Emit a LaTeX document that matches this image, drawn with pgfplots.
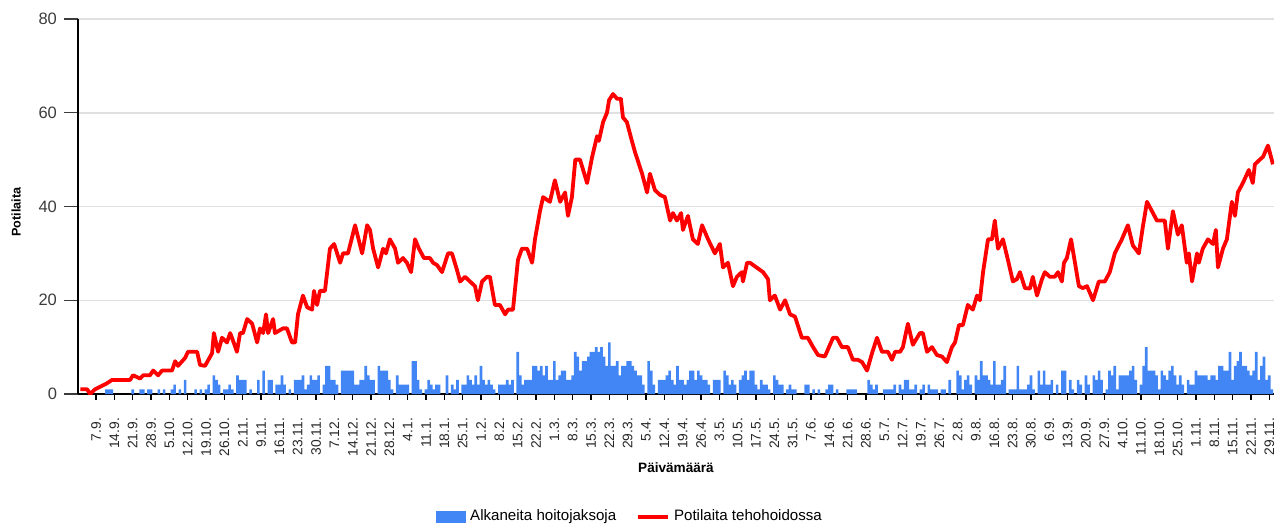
\documentclass[border=0pt]{standalone}
\usepackage{fontspec}
\setmainfont{Liberation Sans}
\usepackage{pgfplots}
\pgfplotsset{compat=1.18}
\definecolor{barblue}{RGB}{66,133,244}
\definecolor{gridgray}{RGB}{224,224,224}
\definecolor{tickgray}{RGB}{60,60,60}
\begin{document}
\begin{tikzpicture}
\begin{axis}[
  scale only axis, width=598pt, height=187.5pt,
  at={(0pt,0pt)}, anchor=south west,
  xmin=-0.9, xmax=455.8, ymin=0, ymax=80,
  axis lines=left, axis line style={-, line width=0.8pt, black},
  ytick={0,20,40,60,80},
  ymajorgrids, grid style={gridgray, line width=0.75pt},
  xtick={6,13,...,454},
  xticklabels={7.9.,14.9.,21.9.,28.9.,5.10.,12.10.,19.10.,26.10.,2.11.,9.11.,16.11.,23.11.,30.11.,7.12.,14.12.,21.12.,28.12.,4.1.,11.1.,18.1.,25.1.,1.2.,8.2.,15.2.,22.2.,1.3.,8.3.,15.3.,22.3.,29.3.,5.4.,12.4.,19.4.,26.4.,3.5.,10.5.,17.5.,24.5.,31.5.,7.6.,14.6.,21.6.,28.6.,5.7.,12.7.,19.7.,26.7.,2.8.,9.8.,16.8.,23.8.,30.8.,6.9.,13.9.,20.9.,27.9.,4.10.,11.10.,18.10.,25.10.,1.11.,8.11.,15.11.,22.11.,29.11.},
  tick align=outside, major tick length=7pt,
  ytick style={tickgray, line width=0.7pt},
  xtick style={black, line width=0.6pt, /pgfplots/major tick length=3pt},
  /pgf/number format/assume math mode=true,
  yticklabel style={font=\fontsize{8.25}{9}\selectfont, text=tickgray},
  xticklabel style={rotate=90, anchor=east, xshift=-1.5pt, font=\fontsize{6.9}{7}\selectfont, text=black!85},
  xlabel={Päivämäärä},
  xlabel style={font=\fontsize{6.8}{7}\selectfont\bfseries, at={(axis description cs:0.5,0)}, anchor=center, yshift=-37pt},
  ylabel={Potilaita},
  ylabel style={font=\fontsize{6.3}{7}\selectfont\bfseries, at={([xshift=-31pt]axis description cs:0,0.485)}, anchor=center},
  legend columns=2,
  legend style={at={([yshift=-61.5pt]axis description cs:0.4624,0)}, anchor=center, draw=none, fill=none,
    font=\fontsize{7.55}{8}\selectfont, /tikz/every even column/.append style={column sep=8pt}},
]
\addplot[ybar, bar width=1, fill=barblue, draw=none,
  legend image code/.code={\fill[barblue] (0pt,-3pt) rectangle (15pt,3pt);}]
table[row sep=\\]{
x y\\
10 1\\ 11 1\\ 12 1\\ 20 1\\ 23 1\\ 24 1\\ 26 1\\ 27 1\\ 30 1\\ 32 1\\
35 1\\ 36 2\\ 38 1\\ 40 3\\ 44 1\\ 46 1\\ 48 1\\ 49 2\\ 51 4\\ 52 3\\
53 2\\ 55 1\\ 56 1\\ 57 2\\ 58 1\\ 60 4\\ 61 3\\ 62 3\\ 63 3\\ 65 1\\
68 3\\ 70 5\\ 72 3\\ 73 3\\ 75 2\\ 76 2\\ 77 4\\ 78 2\\ 80 1\\ 82 3\\
83 3\\ 84 3\\ 85 4\\ 86 1\\ 87 2\\ 88 4\\ 89 3\\ 90 3\\ 91 4\\ 93 2\\
94 6\\ 95 6\\ 96 3\\ 97 3\\ 98 2\\ 100 5\\ 101 5\\ 102 5\\ 103 5\\ 104 5\\
105 2\\ 106 2\\ 107 3\\ 108 3\\ 109 6\\ 110 4\\ 111 3\\ 112 3\\ 114 6\\ 115 5\\
116 5\\ 117 5\\ 118 3\\ 119 1\\ 121 4\\ 122 2\\ 123 2\\ 124 2\\ 125 2\\ 127 7\\
128 7\\ 129 3\\ 130 1\\ 132 1\\ 133 3\\ 134 2\\ 135 1\\ 136 2\\ 137 2\\ 140 4\\
142 2\\ 143 1\\ 144 3\\ 146 2\\ 147 2\\ 148 4\\ 149 3\\ 150 2\\ 151 4\\ 152 2\\
153 6\\ 154 3\\ 155 2\\ 156 3\\ 157 2\\ 158 1\\ 160 2\\ 161 2\\ 162 2\\ 163 3\\
164 2\\ 165 3\\ 167 9\\ 168 4\\ 169 2\\ 170 3\\ 171 3\\ 172 3\\ 173 6\\ 174 6\\
175 5\\ 176 6\\ 177 4\\ 178 6\\ 179 3\\ 180 3\\ 181 7\\ 182 3\\ 183 4\\ 184 5\\
185 5\\ 186 3\\ 187 3\\ 188 4\\ 189 9\\ 190 8\\ 191 5\\ 192 7\\ 193 7\\ 194 8\\
195 9\\ 196 9\\ 197 10\\ 198 9\\ 199 10\\ 200 8\\ 201 6\\ 202 11\\ 203 6\\ 204 6\\
205 7\\ 206 4\\ 207 6\\ 208 6\\ 209 7\\ 210 7\\ 211 6\\ 212 5\\ 213 4\\ 214 4\\
215 2\\ 217 7\\ 218 5\\ 219 2\\ 221 3\\ 222 3\\ 223 3\\ 224 4\\ 225 5\\ 226 3\\
227 2\\ 228 6\\ 229 3\\ 230 3\\ 231 2\\ 232 3\\ 233 5\\ 234 5\\ 235 3\\ 236 5\\
237 4\\ 238 3\\ 239 3\\ 240 2\\ 242 3\\ 243 3\\ 244 3\\ 246 5\\ 247 4\\ 248 2\\
249 3\\ 250 2\\ 252 3\\ 253 4\\ 254 5\\ 255 3\\ 256 5\\ 257 5\\ 258 2\\ 259 1\\
260 3\\ 261 2\\ 262 2\\ 263 1\\ 265 4\\ 266 3\\ 267 2\\ 268 2\\ 270 1\\ 271 2\\
272 1\\ 273 1\\ 277 2\\ 278 2\\ 280 1\\ 282 1\\ 285 1\\ 286 2\\ 287 2\\ 289 1\\
293 1\\ 294 1\\ 295 1\\ 296 1\\ 301 3\\ 302 2\\ 303 1\\ 304 2\\ 307 1\\ 308 1\\
309 1\\ 310 1\\ 311 2\\ 313 2\\ 314 1\\ 315 3\\ 316 3\\ 317 1\\ 318 1\\ 319 2\\
321 1\\ 322 2\\ 324 2\\ 325 1\\ 326 1\\ 327 1\\ 329 1\\ 330 1\\ 332 3\\ 335 5\\
336 4\\ 337 1\\ 338 3\\ 339 4\\ 340 2\\ 342 4\\ 343 3\\ 344 7\\ 345 4\\ 346 4\\
347 3\\ 348 2\\ 349 7\\ 350 2\\ 351 2\\ 352 3\\ 353 6\\ 355 1\\ 356 1\\ 357 1\\
358 6\\ 359 1\\ 360 1\\ 361 1\\ 362 2\\ 363 4\\ 364 1\\ 366 5\\ 367 2\\ 368 5\\
369 2\\ 370 2\\ 371 3\\ 373 2\\ 375 5\\ 376 5\\ 378 3\\ 379 1\\ 381 3\\ 382 2\\
384 4\\ 385 2\\ 387 4\\ 388 3\\ 389 5\\ 390 3\\ 392 1\\ 393 5\\ 394 4\\ 395 6\\
396 1\\ 397 4\\ 398 4\\ 399 4\\ 400 4\\ 401 5\\ 402 6\\ 403 3\\ 405 2\\ 406 6\\
407 10\\ 408 5\\ 409 5\\ 410 5\\ 411 4\\ 412 1\\ 413 5\\ 414 4\\ 415 3\\ 416 5\\
417 6\\ 418 4\\ 419 2\\ 420 4\\ 421 2\\ 423 3\\ 424 2\\ 425 2\\ 426 5\\ 427 4\\
428 4\\ 429 4\\ 430 4\\ 431 3\\ 432 4\\ 433 4\\ 434 3\\ 435 6\\ 436 6\\ 437 5\\
438 5\\ 439 9\\ 440 3\\ 441 6\\ 442 7\\ 443 9\\ 444 6\\ 445 6\\ 446 5\\ 447 4\\
448 5\\ 449 9\\ 450 3\\ 451 6\\ 452 8\\ 453 3\\ 454 4\\ 455 1\\
};
\addlegendentry{Alkaneita hoitojaksoja}
\addplot[red, line width=1.9pt, line join=round,
  legend image code/.code={\draw[red, line width=1.9pt] (0pt,0pt) -- (15pt,0pt);}]
table[row sep=\\]{
x y\\
0 1\\ 2.6 1\\ 3.7 0\\ 5.6 1\\ 10.2 2.3\\ 12.1 3\\ 19 3\\ 20.1 4\\ 22.8 3.3\\ 24 4\\
26.6 4\\ 27.8 5\\ 29.7 4\\ 31.2 5\\ 35 5\\ 36.2 7\\ 37.3 6\\ 40 7.7\\ 41.1 9\\ 44.6 9\\
45.7 6.2\\ 47.6 6\\ 50.3 8.7\\ 51 13\\ 52.6 9\\ 54.1 12\\ 56 11\\ 57.2 13\\ 57.9 12\\ 59.8 9\\
61 13\\ 62.1 13\\ 63.7 16\\ 65.6 15\\ 67.5 11\\ 68.6 14\\ 69.8 13\\ 70.9 17\\ 71.7 13\\ 73.6 16\\
74.3 13\\ 77.4 14\\ 78.9 14\\ 80.8 11\\ 82 11\\ 83.1 17\\ 85 21\\ 86.6 18.5\\ 88.5 18\\ 89.2 22\\
90.4 19\\ 91.5 22\\ 93.4 22\\ 95.3 31\\ 96.9 32\\ 99.2 28\\ 100.3 30\\ 102.2 30\\ 104.9 36\\ 107.6 30\\
109.5 36\\ 110.6 35\\ 111.8 31\\ 113.7 27\\ 115.6 31\\ 116.7 30\\ 118.2 33\\ 120.2 31\\ 121.3 28\\ 123.2 29\\
124.7 28\\ 126.3 26\\ 127.8 33\\ 129.3 31\\ 131.2 29\\ 133.5 29\\ 134.7 28\\ 136.2 27.5\\ 138.1 26\\ 140.4 30\\
141.9 30\\ 143.8 26.5\\ 145 24\\ 146.9 25\\ 148.8 24\\ 150.7 23\\ 151.8 20\\ 153.4 24\\ 155.3 25\\ 156.4 25\\
158.3 19\\ 160.2 19\\ 162.2 17\\ 163.3 18\\ 165.2 18\\ 167.1 28.6\\ 168.6 31\\ 170.6 31\\ 172.5 28\\ 173.6 33\\
175.5 39\\ 176.7 42\\ 179.3 41\\ 181.2 45.6\\ 183.2 41\\ 185.1 43\\ 186.2 38\\ 187.7 42\\ 189 50\\ 190.8 50\\
193.5 45\\ 195.4 50.5\\ 197.3 55\\ 198 54\\ 199.6 58\\ 201.1 60\\ 201.9 62.7\\ 203.4 64\\ 204.9 63\\ 206.4 63\\
207.2 59\\ 208.7 58\\ 210.6 54\\ 211.8 51.6\\ 214.5 47\\ 216.4 43\\ 217.5 47\\ 219.4 43.5\\ 221.3 42.5\\ 223.2 42\\
225.2 37\\ 226.3 38.6\\ 227.8 37\\ 229.4 38.6\\ 230.1 35\\ 232 38\\ 233.9 33\\ 235.8 32\\ 237.4 36\\ 239.7 33\\
242.3 30\\ 244.2 32\\ 245.4 27\\ 247.3 28\\ 249.2 23\\ 250.7 25\\ 252.6 26\\ 253 24\\ 254.6 28\\ 255.7 28\\
260.7 26\\ 262.6 24.5\\ 263.3 20\\ 265.2 21\\ 267.2 18\\ 269.1 20\\ 271 17\\ 272.9 16.5\\ 275.5 12\\ 277.8 12\\
279.8 10\\ 281.7 8.3\\ 284.3 8\\ 287.4 12\\ 288.9 12\\ 290.8 10\\ 293.1 10\\ 295 7.3\\ 296.9 7.3\\ 298.5 6.8\\
300.4 5\\ 302.3 8.7\\ 304.2 12\\ 306.1 9\\ 308.4 9\\ 309.9 7.3\\ 311.1 9\\ 313 9\\ 314.1 10\\ 316 15\\
317.9 10.5\\ 320.6 13\\ 321.7 13\\ 323.3 9\\ 325.2 10\\ 327.1 8.3\\ 329 8\\ 330.9 6.8\\ 332.8 10\\ 334 11\\
335.5 14.7\\ 337 14.7\\ 338.9 19\\ 340.8 18\\ 342.4 21\\ 343.5 20\\ 344.7 26\\ 346.6 33\\ 348.1 33\\ 349.2 37\\
350.4 31\\ 352.3 33\\ 354.2 28.6\\ 356.1 24\\ 357.6 24.5\\ 358.8 26\\ 360.7 22.6\\ 362.6 22.5\\ 363.7 25\\ 365.3 21\\
367.2 24.5\\ 368.3 26\\ 370.2 25\\ 372.1 25\\ 373.3 26\\ 374.8 24\\ 375.6 28\\ 376.7 29\\ 378.3 33\\ 379.8 28\\
381.3 23\\ 382.8 22.6\\ 384.4 23\\ 386.7 20\\ 388.9 24\\ 391.2 24\\ 393.1 26\\ 395 30\\ 397.7 33\\ 400 36\\
401.9 31.7\\ 404.2 30\\ 405.7 35.6\\ 407.3 41\\ 409.2 39\\ 411.1 37\\ 414.1 37\\ 415.3 31\\ 417.2 39\\ 419.1 34\\
420.6 36\\ 422.5 28\\ 423.3 30\\ 424.5 24\\ 426.4 30\\ 427.1 28\\ 428.6 31\\ 430.6 33\\ 432.5 32\\ 433.6 35\\
434.4 27\\ 436.3 31\\ 437.8 33\\ 439.7 41\\ 440.9 38\\ 442 43\\ 443.9 45\\ 446.2 47.8\\ 447.7 45\\ 448.5 49\\
450.4 50\\ 451.6 50.6\\ 453.5 53\\ 455.4 49\\
};
\addlegendentry{Potilaita tehohoidossa}
\end{axis}
\pgfresetboundingbox
\path (-39pt,-66.5pt) rectangle (599pt,197pt);
\end{tikzpicture}
\end{document}
